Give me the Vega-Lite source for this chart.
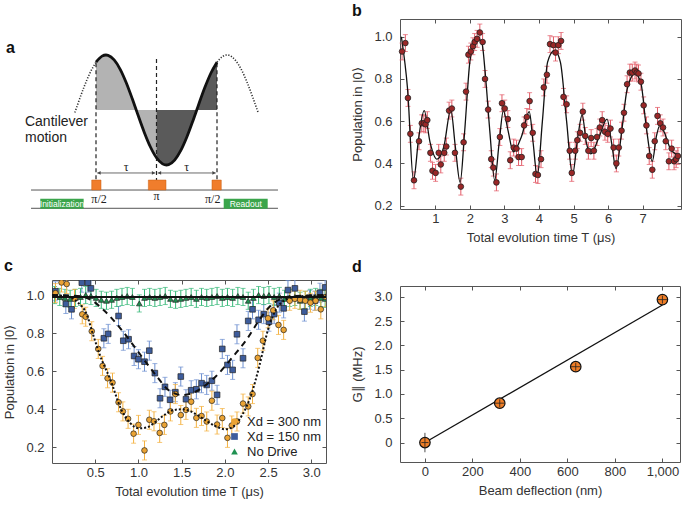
{
"$schema": "https://vega.github.io/schema/vega-lite/v6.json",
"padding": {"left": 3, "top": 2, "right": 0, "bottom": 0},
"background": "white",
"config": {
 "font": "Liberation Sans",
 "view": {"stroke": "#555", "strokeWidth": 1},
 "axis": {"labelFont": "Liberation Sans", "titleFont": "Liberation Sans", "labelFontSize": 13, "titleFontSize": 13, "titleFontWeight": "normal", "labelColor": "#333", "titleColor": "#333", "tickSize": -4, "tickColor": "#555", "grid": false, "domain": false},
 "axisX": {"labelPadding": 7, "titlePadding": 6},
 "axisY": {"labelPadding": 12, "titlePadding": 9},
 "title": {"fontSize": 16, "fontWeight": "bold", "anchor": "start", "frame": "bounds", "color": "#111", "font": "Liberation Sans"}
},
"datasets": {
 "acurve": [
  {"u": -0.35, "v": -0.047, "seg": "L"}, {"u": -0.3, "v": 0.11, "seg": "L"}, {"u": -0.2, "v": 0.412, "seg": "L"}, {"u": -0.1, "v": 0.673, "seg": "L"}, {"u": 0, "v": 0.869, "seg": "L"},
  {"u": 0, "v": 0.869, "seg": "S"}, {"u": 0.1, "v": 0.979, "seg": "S"}, {"u": 0.165, "v": 1, "seg": "S"}, {"u": 0.2, "v": 0.994, "seg": "S"}, {"u": 0.3, "v": 0.911, "seg": "S"}, {"u": 0.4, "v": 0.74, "seg": "S"}, {"u": 0.5, "v": 0.496, "seg": "S"}, {"u": 0.6, "v": 0.203, "seg": "S"}, {"u": 0.665, "v": 0, "seg": "S"}, {"u": 0.7, "v": -0.11, "seg": "S"}, {"u": 0.8, "v": -0.412, "seg": "S"}, {"u": 0.9, "v": -0.673, "seg": "S"}, {"u": 1.0, "v": -0.869, "seg": "S"}, {"u": 1.1, "v": -0.979, "seg": "S"}, {"u": 1.165, "v": -1, "seg": "S"}, {"u": 1.2, "v": -0.994, "seg": "S"}, {"u": 1.3, "v": -0.911, "seg": "S"}, {"u": 1.4, "v": -0.74, "seg": "S"}, {"u": 1.5, "v": -0.496, "seg": "S"}, {"u": 1.6, "v": -0.203, "seg": "S"}, {"u": 1.665, "v": 0, "seg": "S"}, {"u": 1.7, "v": 0.11, "seg": "S"}, {"u": 1.8, "v": 0.412, "seg": "S"}, {"u": 1.9, "v": 0.673, "seg": "S"}, {"u": 2.0, "v": 0.869, "seg": "S"},
  {"u": 2.0, "v": 0.869, "seg": "R"}, {"u": 2.1, "v": 0.979, "seg": "R"}, {"u": 2.165, "v": 1, "seg": "R"}, {"u": 2.2, "v": 0.994, "seg": "R"}, {"u": 2.3, "v": 0.911, "seg": "R"}, {"u": 2.4, "v": 0.74, "seg": "R"}, {"u": 2.5, "v": 0.496, "seg": "R"}, {"u": 2.6, "v": 0.203, "seg": "R"}, {"u": 2.68, "v": -0.047, "seg": "R"}
 ],
 "avl": [{"u": 0, "v1": 0.85, "v2": -1.273}, {"u": 1, "v1": 0.927, "v2": -1.273}, {"u": 2, "v1": 0.85, "v2": -1.273}],
 "abase": [{"u1": -1.074, "u2": 3.008, "v": -1.455}, {"u1": -1.074, "u2": 3.008, "v": -1.787}],
 "aarrow": [{"u1": 0.02, "u2": 0.98, "v": -1.145}, {"u1": 1.02, "u2": 1.98, "v": -1.145}],
 "aheadL": [{"u": 0.05, "v": -1.145}, {"u": 1.05, "v": -1.145}],
 "aheadR": [{"u": 0.95, "v": -1.145}, {"u": 1.95, "v": -1.145}],
 "apulse": [{"u1": -0.071, "u2": 0.083, "v1": -1.273, "v2": -1.455}, {"u1": 0.865, "u2": 1.157, "v1": -1.273, "v2": -1.455}, {"u1": 1.917, "u2": 2.071, "v1": -1.273, "v2": -1.455}],
 "abox": [{"u1": -0.921, "u2": -0.204, "v1": -1.613, "v2": -1.794, "uc": -0.5625, "vc": -1.703, "label": "Initialization"}, {"u1": 2.111, "u2": 2.838, "v1": -1.613, "v2": -1.794, "uc": 2.475, "vc": -1.703, "label": "Readout"}],
 "atext": [
  {"u": -1.174, "v": -0.213, "t": "Cantilever", "k": "m"}, {"u": -1.174, "v": -0.515, "t": "motion", "k": "m"},
  {"u": 0.5, "v": -1.036, "t": "τ", "k": "s"}, {"u": 1.5, "v": -1.036, "t": "τ", "k": "s"},
  {"u": 0.05, "v": -1.62, "t": "π/2", "k": "s"}, {"u": 1.0, "v": -1.56, "t": "π", "k": "s"}, {"u": 1.93, "v": -1.62, "t": "π/2", "k": "s"},
  {"u": -1.4876, "v": 1.036, "t": "a", "k": "lab"}
 ],
 "bpts": [
  {"T": 0.04, "P": 0.93, "e": 0.04}, {"T": 0.135, "P": 0.97, "e": 0.04}, {"T": 0.21, "P": 0.71, "e": 0.04}, {"T": 0.28, "P": 0.54, "e": 0.04}, {"T": 0.385, "P": 0.32, "e": 0.04},
  {"T": 0.53, "P": 0.505, "e": 0.04}, {"T": 0.61, "P": 0.59, "e": 0.04}, {"T": 0.67, "P": 0.59, "e": 0.04}, {"T": 0.72, "P": 0.585, "e": 0.04}, {"T": 0.77, "P": 0.605, "e": 0.04},
  {"T": 0.86, "P": 0.45, "e": 0.04}, {"T": 0.92, "P": 0.365, "e": 0.04}, {"T": 1.01, "P": 0.355, "e": 0.04}, {"T": 1.10, "P": 0.45, "e": 0.04}, {"T": 1.16, "P": 0.395, "e": 0.04},
  {"T": 1.26, "P": 0.45, "e": 0.04}, {"T": 1.32, "P": 0.48, "e": 0.04}, {"T": 1.40, "P": 0.65, "e": 0.04}, {"T": 1.48, "P": 0.66, "e": 0.04}, {"T": 1.57, "P": 0.45, "e": 0.04},
  {"T": 1.74, "P": 0.29, "e": 0.04}, {"T": 1.82, "P": 0.50, "e": 0.04}, {"T": 1.89, "P": 0.74, "e": 0.04}, {"T": 1.96, "P": 0.915, "e": 0.04}, {"T": 2.03, "P": 0.93, "e": 0.04},
  {"T": 2.09, "P": 0.955, "e": 0.04}, {"T": 2.14, "P": 0.975, "e": 0.04}, {"T": 2.21, "P": 0.99, "e": 0.04}, {"T": 2.29, "P": 1.02, "e": 0.04}, {"T": 2.37, "P": 0.975, "e": 0.04},
  {"T": 2.44, "P": 0.80, "e": 0.04}, {"T": 2.53, "P": 0.655, "e": 0.04}, {"T": 2.62, "P": 0.42, "e": 0.04}, {"T": 2.68, "P": 0.38, "e": 0.04}, {"T": 2.77, "P": 0.31, "e": 0.04},
  {"T": 2.87, "P": 0.525, "e": 0.04}, {"T": 2.93, "P": 0.685, "e": 0.04}, {"T": 3.01, "P": 0.66, "e": 0.04}, {"T": 3.10, "P": 0.61, "e": 0.04}, {"T": 3.17, "P": 0.415, "e": 0.04},
  {"T": 3.27, "P": 0.475, "e": 0.04}, {"T": 3.35, "P": 0.47, "e": 0.04}, {"T": 3.41, "P": 0.43, "e": 0.04}, {"T": 3.50, "P": 0.43, "e": 0.04}, {"T": 3.57, "P": 0.58, "e": 0.04},
  {"T": 3.65, "P": 0.62, "e": 0.04}, {"T": 3.73, "P": 0.695, "e": 0.04}, {"T": 3.82, "P": 0.545, "e": 0.04}, {"T": 3.90, "P": 0.35, "e": 0.04}, {"T": 3.97, "P": 0.345, "e": 0.04},
  {"T": 4.06, "P": 0.42, "e": 0.04}, {"T": 4.14, "P": 0.76, "e": 0.04}, {"T": 4.23, "P": 0.82, "e": 0.04}, {"T": 4.32, "P": 0.965, "e": 0.04}, {"T": 4.42, "P": 0.96, "e": 0.04},
  {"T": 4.48, "P": 0.925, "e": 0.04}, {"T": 4.56, "P": 0.96, "e": 0.04}, {"T": 4.64, "P": 0.98, "e": 0.04}, {"T": 4.71, "P": 0.715, "e": 0.04}, {"T": 4.80, "P": 0.68, "e": 0.04},
  {"T": 4.89, "P": 0.46, "e": 0.04}, {"T": 4.95, "P": 0.355, "e": 0.04}, {"T": 5.05, "P": 0.46, "e": 0.04}, {"T": 5.11, "P": 0.51, "e": 0.04}, {"T": 5.19, "P": 0.545, "e": 0.04},
  {"T": 5.27, "P": 0.645, "e": 0.04}, {"T": 5.34, "P": 0.53, "e": 0.04}, {"T": 5.43, "P": 0.46, "e": 0.04}, {"T": 5.51, "P": 0.52, "e": 0.04}, {"T": 5.59, "P": 0.46, "e": 0.04},
  {"T": 5.68, "P": 0.525, "e": 0.04}, {"T": 5.76, "P": 0.57, "e": 0.04}, {"T": 5.83, "P": 0.605, "e": 0.04}, {"T": 5.91, "P": 0.55, "e": 0.04}, {"T": 5.99, "P": 0.54, "e": 0.04},
  {"T": 6.07, "P": 0.565, "e": 0.04}, {"T": 6.16, "P": 0.475, "e": 0.04}, {"T": 6.24, "P": 0.40, "e": 0.04}, {"T": 6.31, "P": 0.475, "e": 0.04}, {"T": 6.39, "P": 0.555, "e": 0.04},
  {"T": 6.46, "P": 0.64, "e": 0.04}, {"T": 6.55, "P": 0.775, "e": 0.04}, {"T": 6.63, "P": 0.83, "e": 0.04}, {"T": 6.70, "P": 0.83, "e": 0.04}, {"T": 6.78, "P": 0.84, "e": 0.04},
  {"T": 6.83, "P": 0.83, "e": 0.04}, {"T": 6.88, "P": 0.826, "e": 0.04}, {"T": 6.95, "P": 0.787, "e": 0.04}, {"T": 7.03, "P": 0.675, "e": 0.04}, {"T": 7.11, "P": 0.58, "e": 0.04},
  {"T": 7.19, "P": 0.435, "e": 0.04}, {"T": 7.28, "P": 0.37, "e": 0.04}, {"T": 7.35, "P": 0.505, "e": 0.04}, {"T": 7.43, "P": 0.625, "e": 0.04}, {"T": 7.51, "P": 0.59, "e": 0.04},
  {"T": 7.59, "P": 0.57, "e": 0.04}, {"T": 7.67, "P": 0.505, "e": 0.04}, {"T": 7.76, "P": 0.41, "e": 0.04}, {"T": 7.84, "P": 0.47, "e": 0.04}, {"T": 7.91, "P": 0.41, "e": 0.04},
  {"T": 7.97, "P": 0.42, "e": 0.04}, {"T": 8.02, "P": 0.435, "e": 0.04}
 ],
 "bfit": [
  {"T": 0.02, "P": 1.0}, {"T": 0.2, "P": 0.75}, {"T": 0.37, "P": 0.32}, {"T": 0.52, "P": 0.52}, {"T": 0.68, "P": 0.65}, {"T": 0.85, "P": 0.5}, {"T": 1.05, "P": 0.42}, {"T": 1.25, "P": 0.48}, {"T": 1.45, "P": 0.655}, {"T": 1.58, "P": 0.48}, {"T": 1.72, "P": 0.31}, {"T": 1.85, "P": 0.55}, {"T": 2.0, "P": 0.88}, {"T": 2.1, "P": 0.96}, {"T": 2.25, "P": 0.99}, {"T": 2.35, "P": 0.97}, {"T": 2.45, "P": 0.82}, {"T": 2.58, "P": 0.55}, {"T": 2.72, "P": 0.32}, {"T": 2.85, "P": 0.5}, {"T": 2.97, "P": 0.65}, {"T": 3.1, "P": 0.56}, {"T": 3.26, "P": 0.455}, {"T": 3.5, "P": 0.53}, {"T": 3.72, "P": 0.645}, {"T": 3.83, "P": 0.5}, {"T": 3.95, "P": 0.34}, {"T": 4.1, "P": 0.6}, {"T": 4.25, "P": 0.88}, {"T": 4.45, "P": 0.935}, {"T": 4.62, "P": 0.88}, {"T": 4.8, "P": 0.6}, {"T": 4.97, "P": 0.345}, {"T": 5.12, "P": 0.52}, {"T": 5.25, "P": 0.63}, {"T": 5.37, "P": 0.5}, {"T": 5.5, "P": 0.445}, {"T": 5.75, "P": 0.53}, {"T": 5.97, "P": 0.61}, {"T": 6.1, "P": 0.5}, {"T": 6.23, "P": 0.375}, {"T": 6.4, "P": 0.56}, {"T": 6.55, "P": 0.75}, {"T": 6.78, "P": 0.825}, {"T": 6.95, "P": 0.78}, {"T": 7.1, "P": 0.58}, {"T": 7.28, "P": 0.41}, {"T": 7.4, "P": 0.53}, {"T": 7.5, "P": 0.58}, {"T": 7.62, "P": 0.55}, {"T": 7.8, "P": 0.47}, {"T": 7.95, "P": 0.445}, {"T": 8.08, "P": 0.44}
 ],
 "cpts": [
  {"T": 0.04, "P": 1.02, "e": 0.05, "s": "Xd = 150 nm"}, {"T": 0.16, "P": 0.953, "e": 0.05, "s": "Xd = 150 nm"}, {"T": 0.226, "P": 0.925, "e": 0.05, "s": "Xd = 150 nm"}, {"T": 0.345, "P": 1.065, "e": 0.05, "s": "Xd = 150 nm"}, {"T": 0.415, "P": 1.065, "e": 0.05, "s": "Xd = 150 nm"}, {"T": 0.45, "P": 1.035, "e": 0.05, "s": "Xd = 150 nm"},
  {"T": 0.60, "P": 0.773, "e": 0.05, "s": "Xd = 150 nm"}, {"T": 0.65, "P": 0.796, "e": 0.05, "s": "Xd = 150 nm"}, {"T": 0.77, "P": 0.89, "e": 0.05, "s": "Xd = 150 nm"}, {"T": 0.825, "P": 0.76, "e": 0.05, "s": "Xd = 150 nm"}, {"T": 0.886, "P": 0.768, "e": 0.05, "s": "Xd = 150 nm"}, {"T": 0.95, "P": 0.68, "e": 0.05, "s": "Xd = 150 nm"},
  {"T": 1.0, "P": 0.663, "e": 0.05, "s": "Xd = 150 nm"}, {"T": 1.07, "P": 0.65, "e": 0.05, "s": "Xd = 150 nm"}, {"T": 1.126, "P": 0.708, "e": 0.05, "s": "Xd = 150 nm"}, {"T": 1.19, "P": 0.59, "e": 0.05, "s": "Xd = 150 nm"}, {"T": 1.25, "P": 0.458, "e": 0.05, "s": "Xd = 150 nm"}, {"T": 1.307, "P": 0.518, "e": 0.05, "s": "Xd = 150 nm"},
  {"T": 1.366, "P": 0.45, "e": 0.05, "s": "Xd = 150 nm"}, {"T": 1.427, "P": 0.49, "e": 0.05, "s": "Xd = 150 nm"}, {"T": 1.49, "P": 0.572, "e": 0.05, "s": "Xd = 150 nm"}, {"T": 1.55, "P": 0.453, "e": 0.05, "s": "Xd = 150 nm"}, {"T": 1.61, "P": 0.5, "e": 0.05, "s": "Xd = 150 nm"}, {"T": 1.67, "P": 0.505, "e": 0.05, "s": "Xd = 150 nm"},
  {"T": 1.73, "P": 0.537, "e": 0.05, "s": "Xd = 150 nm"}, {"T": 1.79, "P": 0.528, "e": 0.05, "s": "Xd = 150 nm"}, {"T": 1.85, "P": 0.55, "e": 0.05, "s": "Xd = 150 nm"}, {"T": 1.91, "P": 0.476, "e": 0.05, "s": "Xd = 150 nm"}, {"T": 1.97, "P": 0.717, "e": 0.05, "s": "Xd = 150 nm"}, {"T": 2.03, "P": 0.633, "e": 0.05, "s": "Xd = 150 nm"},
  {"T": 2.09, "P": 0.607, "e": 0.05, "s": "Xd = 150 nm"}, {"T": 2.14, "P": 0.794, "e": 0.05, "s": "Xd = 150 nm"}, {"T": 2.21, "P": 0.668, "e": 0.05, "s": "Xd = 150 nm"}, {"T": 2.27, "P": 0.864, "e": 0.05, "s": "Xd = 150 nm"}, {"T": 2.32, "P": 0.925, "e": 0.05, "s": "Xd = 150 nm"}, {"T": 2.39, "P": 0.87, "e": 0.05, "s": "Xd = 150 nm"},
  {"T": 2.45, "P": 0.9, "e": 0.05, "s": "Xd = 150 nm"}, {"T": 2.51, "P": 0.86, "e": 0.05, "s": "Xd = 150 nm"}, {"T": 2.57, "P": 0.9, "e": 0.05, "s": "Xd = 150 nm"}, {"T": 2.63, "P": 0.96, "e": 0.05, "s": "Xd = 150 nm"}, {"T": 2.68, "P": 0.93, "e": 0.05, "s": "Xd = 150 nm"}, {"T": 2.73, "P": 1.026, "e": 0.05, "s": "Xd = 150 nm"},
  {"T": 2.81, "P": 1.035, "e": 0.05, "s": "Xd = 150 nm"}, {"T": 2.92, "P": 0.913, "e": 0.05, "s": "Xd = 150 nm"}, {"T": 2.98, "P": 0.975, "e": 0.05, "s": "Xd = 150 nm"}, {"T": 3.04, "P": 0.97, "e": 0.05, "s": "Xd = 150 nm"}, {"T": 3.10, "P": 1.012, "e": 0.05, "s": "Xd = 150 nm"}, {"T": 3.16, "P": 1.04, "e": 0.05, "s": "Xd = 150 nm"},
  {"T": 0.03, "P": 1.0, "e": 0.045, "s": "No Drive"}, {"T": 0.09, "P": 0.99, "e": 0.045, "s": "No Drive"}, {"T": 0.15, "P": 0.985, "e": 0.045, "s": "No Drive"}, {"T": 0.21, "P": 0.98, "e": 0.045, "s": "No Drive"}, {"T": 0.27, "P": 0.985, "e": 0.045, "s": "No Drive"}, {"T": 0.33, "P": 0.99, "e": 0.045, "s": "No Drive"},
  {"T": 0.39, "P": 1.0, "e": 0.045, "s": "No Drive"}, {"T": 0.45, "P": 0.995, "e": 0.045, "s": "No Drive"}, {"T": 0.51, "P": 0.985, "e": 0.045, "s": "No Drive"}, {"T": 0.57, "P": 0.975, "e": 0.045, "s": "No Drive"}, {"T": 0.63, "P": 0.97, "e": 0.045, "s": "No Drive"}, {"T": 0.69, "P": 0.975, "e": 0.045, "s": "No Drive"},
  {"T": 0.75, "P": 0.985, "e": 0.045, "s": "No Drive"}, {"T": 0.81, "P": 0.99, "e": 0.045, "s": "No Drive"}, {"T": 0.87, "P": 0.995, "e": 0.045, "s": "No Drive"}, {"T": 0.93, "P": 0.99, "e": 0.045, "s": "No Drive"}, {"T": 1.01, "P": 0.956, "e": 0.045, "s": "No Drive"}, {"T": 1.07, "P": 0.985, "e": 0.045, "s": "No Drive"},
  {"T": 1.13, "P": 0.99, "e": 0.045, "s": "No Drive"}, {"T": 1.19, "P": 0.985, "e": 0.045, "s": "No Drive"}, {"T": 1.25, "P": 0.99, "e": 0.045, "s": "No Drive"}, {"T": 1.31, "P": 0.995, "e": 0.045, "s": "No Drive"}, {"T": 1.37, "P": 0.98, "e": 0.045, "s": "No Drive"}, {"T": 1.43, "P": 0.975, "e": 0.045, "s": "No Drive"},
  {"T": 1.49, "P": 0.98, "e": 0.045, "s": "No Drive"}, {"T": 1.55, "P": 0.985, "e": 0.045, "s": "No Drive"}, {"T": 1.61, "P": 0.99, "e": 0.045, "s": "No Drive"}, {"T": 1.67, "P": 0.98, "e": 0.045, "s": "No Drive"}, {"T": 1.73, "P": 0.99, "e": 0.045, "s": "No Drive"}, {"T": 1.79, "P": 0.985, "e": 0.045, "s": "No Drive"},
  {"T": 1.85, "P": 0.99, "e": 0.045, "s": "No Drive"}, {"T": 1.91, "P": 0.995, "e": 0.045, "s": "No Drive"}, {"T": 1.97, "P": 0.985, "e": 0.045, "s": "No Drive"}, {"T": 2.03, "P": 0.99, "e": 0.045, "s": "No Drive"}, {"T": 2.09, "P": 0.985, "e": 0.045, "s": "No Drive"}, {"T": 2.15, "P": 0.995, "e": 0.045, "s": "No Drive"},
  {"T": 2.21, "P": 0.99, "e": 0.045, "s": "No Drive"}, {"T": 2.27, "P": 0.97, "e": 0.045, "s": "No Drive"}, {"T": 2.33, "P": 0.985, "e": 0.045, "s": "No Drive"}, {"T": 2.39, "P": 1.0, "e": 0.045, "s": "No Drive"}, {"T": 2.45, "P": 0.995, "e": 0.045, "s": "No Drive"}, {"T": 2.51, "P": 1.0, "e": 0.045, "s": "No Drive"},
  {"T": 2.57, "P": 0.99, "e": 0.045, "s": "No Drive"}, {"T": 2.63, "P": 0.995, "e": 0.045, "s": "No Drive"}, {"T": 2.69, "P": 0.98, "e": 0.045, "s": "No Drive"}, {"T": 2.75, "P": 0.985, "e": 0.045, "s": "No Drive"}, {"T": 2.81, "P": 0.99, "e": 0.045, "s": "No Drive"}, {"T": 2.87, "P": 0.97, "e": 0.045, "s": "No Drive"},
  {"T": 2.93, "P": 0.975, "e": 0.045, "s": "No Drive"}, {"T": 2.99, "P": 0.985, "e": 0.045, "s": "No Drive"}, {"T": 3.05, "P": 0.99, "e": 0.045, "s": "No Drive"}, {"T": 3.11, "P": 0.985, "e": 0.045, "s": "No Drive"}, {"T": 3.16, "P": 0.98, "e": 0.045, "s": "No Drive"},
  {"T": 0.04, "P": 1.01, "e": 0.05, "s": "Xd = 300 nm"}, {"T": 0.11, "P": 1.066, "e": 0.05, "s": "Xd = 300 nm"}, {"T": 0.17, "P": 1.058, "e": 0.05, "s": "Xd = 300 nm"}, {"T": 0.26, "P": 0.98, "e": 0.05, "s": "Xd = 300 nm"}, {"T": 0.35, "P": 0.899, "e": 0.05, "s": "Xd = 300 nm"}, {"T": 0.39, "P": 0.886, "e": 0.05, "s": "Xd = 300 nm"},
  {"T": 0.46, "P": 0.81, "e": 0.05, "s": "Xd = 300 nm"}, {"T": 0.535, "P": 0.717, "e": 0.05, "s": "Xd = 300 nm"}, {"T": 0.585, "P": 0.628, "e": 0.05, "s": "Xd = 300 nm"}, {"T": 0.643, "P": 0.563, "e": 0.05, "s": "Xd = 300 nm"}, {"T": 0.70, "P": 0.54, "e": 0.05, "s": "Xd = 300 nm"}, {"T": 0.77, "P": 0.437, "e": 0.05, "s": "Xd = 300 nm"},
  {"T": 0.82, "P": 0.389, "e": 0.05, "s": "Xd = 300 nm"}, {"T": 0.88, "P": 0.35, "e": 0.05, "s": "Xd = 300 nm"}, {"T": 0.944, "P": 0.272, "e": 0.05, "s": "Xd = 300 nm"}, {"T": 1.0, "P": 0.318, "e": 0.05, "s": "Xd = 300 nm"}, {"T": 1.07, "P": 0.184, "e": 0.05, "s": "Xd = 300 nm"}, {"T": 1.126, "P": 0.345, "e": 0.05, "s": "Xd = 300 nm"},
  {"T": 1.18, "P": 0.337, "e": 0.05, "s": "Xd = 300 nm"}, {"T": 1.246, "P": 0.276, "e": 0.05, "s": "Xd = 300 nm"}, {"T": 1.30, "P": 0.318, "e": 0.05, "s": "Xd = 300 nm"}, {"T": 1.37, "P": 0.389, "e": 0.05, "s": "Xd = 300 nm"}, {"T": 1.427, "P": 0.48, "e": 0.05, "s": "Xd = 300 nm"}, {"T": 1.49, "P": 0.37, "e": 0.05, "s": "Xd = 300 nm"},
  {"T": 1.55, "P": 0.397, "e": 0.05, "s": "Xd = 300 nm"}, {"T": 1.61, "P": 0.44, "e": 0.05, "s": "Xd = 300 nm"}, {"T": 1.67, "P": 0.355, "e": 0.05, "s": "Xd = 300 nm"}, {"T": 1.73, "P": 0.365, "e": 0.05, "s": "Xd = 300 nm"}, {"T": 1.79, "P": 0.336, "e": 0.05, "s": "Xd = 300 nm"}, {"T": 1.85, "P": 0.445, "e": 0.05, "s": "Xd = 300 nm"},
  {"T": 1.91, "P": 0.32, "e": 0.05, "s": "Xd = 300 nm"}, {"T": 1.97, "P": 0.354, "e": 0.05, "s": "Xd = 300 nm"}, {"T": 2.03, "P": 0.25, "e": 0.05, "s": "Xd = 300 nm"}, {"T": 2.08, "P": 0.315, "e": 0.05, "s": "Xd = 300 nm"}, {"T": 2.14, "P": 0.336, "e": 0.05, "s": "Xd = 300 nm"}, {"T": 2.21, "P": 0.43, "e": 0.05, "s": "Xd = 300 nm"},
  {"T": 2.27, "P": 0.415, "e": 0.05, "s": "Xd = 300 nm"}, {"T": 2.32, "P": 0.48, "e": 0.05, "s": "Xd = 300 nm"}, {"T": 2.38, "P": 0.67, "e": 0.05, "s": "Xd = 300 nm"}, {"T": 2.44, "P": 0.76, "e": 0.05, "s": "Xd = 300 nm"}, {"T": 2.50, "P": 0.878, "e": 0.05, "s": "Xd = 300 nm"}, {"T": 2.56, "P": 0.92, "e": 0.05, "s": "Xd = 300 nm"},
  {"T": 2.62, "P": 0.843, "e": 0.05, "s": "Xd = 300 nm"}, {"T": 2.68, "P": 0.817, "e": 0.05, "s": "Xd = 300 nm"}, {"T": 2.75, "P": 0.97, "e": 0.05, "s": "Xd = 300 nm"}, {"T": 2.81, "P": 0.98, "e": 0.05, "s": "Xd = 300 nm"}, {"T": 2.87, "P": 0.975, "e": 0.05, "s": "Xd = 300 nm"}, {"T": 2.93, "P": 0.97, "e": 0.05, "s": "Xd = 300 nm"},
  {"T": 2.99, "P": 0.96, "e": 0.05, "s": "Xd = 300 nm"}, {"T": 3.05, "P": 0.97, "e": 0.05, "s": "Xd = 300 nm"}, {"T": 3.11, "P": 0.925, "e": 0.05, "s": "Xd = 300 nm"}, {"T": 3.17, "P": 0.99, "e": 0.05, "s": "Xd = 300 nm"}
 ],
 "cfit": [
  {"T": 0, "P": 0.99, "f": "solid"}, {"T": 3.17, "P": 0.99, "f": "solid"},
  {"T": 0, "P": 1.0, "f": "dash"}, {"T": 0.3, "P": 0.995, "f": "dash"}, {"T": 0.45, "P": 0.975, "f": "dash"}, {"T": 0.6, "P": 0.92, "f": "dash"}, {"T": 0.8, "P": 0.82, "f": "dash"}, {"T": 1.0, "P": 0.7, "f": "dash"}, {"T": 1.2, "P": 0.58, "f": "dash"}, {"T": 1.35, "P": 0.5, "f": "dash"}, {"T": 1.5, "P": 0.475, "f": "dash"}, {"T": 1.65, "P": 0.49, "f": "dash"}, {"T": 1.8, "P": 0.535, "f": "dash"}, {"T": 1.9, "P": 0.575, "f": "dash"}, {"T": 2.1, "P": 0.68, "f": "dash"}, {"T": 2.25, "P": 0.765, "f": "dash"}, {"T": 2.4, "P": 0.87, "f": "dash"}, {"T": 2.52, "P": 0.94, "f": "dash"}, {"T": 2.65, "P": 0.98, "f": "dash"}, {"T": 2.8, "P": 0.995, "f": "dash"}, {"T": 3.17, "P": 1.0, "f": "dash"},
  {"T": 0, "P": 1.0, "f": "dot"}, {"T": 0.2, "P": 0.99, "f": "dot"}, {"T": 0.3, "P": 0.96, "f": "dot"}, {"T": 0.4, "P": 0.9, "f": "dot"}, {"T": 0.47, "P": 0.8, "f": "dot"}, {"T": 0.55, "P": 0.69, "f": "dot"}, {"T": 0.68, "P": 0.55, "f": "dot"}, {"T": 0.8, "P": 0.4, "f": "dot"}, {"T": 0.9, "P": 0.33, "f": "dot"}, {"T": 1.0, "P": 0.3, "f": "dot"}, {"T": 1.1, "P": 0.305, "f": "dot"}, {"T": 1.2, "P": 0.335, "f": "dot"}, {"T": 1.3, "P": 0.37, "f": "dot"}, {"T": 1.4, "P": 0.395, "f": "dot"}, {"T": 1.5, "P": 0.4, "f": "dot"}, {"T": 1.6, "P": 0.39, "f": "dot"}, {"T": 1.7, "P": 0.365, "f": "dot"}, {"T": 1.8, "P": 0.335, "f": "dot"}, {"T": 1.9, "P": 0.31, "f": "dot"}, {"T": 2.0, "P": 0.295, "f": "dot"}, {"T": 2.1, "P": 0.31, "f": "dot"}, {"T": 2.2, "P": 0.37, "f": "dot"}, {"T": 2.3, "P": 0.47, "f": "dot"}, {"T": 2.4, "P": 0.63, "f": "dot"}, {"T": 2.5, "P": 0.82, "f": "dot"}, {"T": 2.6, "P": 0.93, "f": "dot"}, {"T": 2.7, "P": 0.975, "f": "dot"}, {"T": 2.8, "P": 0.99, "f": "dot"}, {"T": 3.17, "P": 1.0, "f": "dot"}
 ],
 "dpts": [{"X": 0, "G": 0.0, "ey": 0.2, "ex": 15}, {"X": 315, "G": 0.81, "ey": 0.08, "ex": 20}, {"X": 635, "G": 1.56, "ey": 0.08, "ex": 20}, {"X": 1000, "G": 2.94, "ey": 0.08, "ex": 20}],
 "dfit": [{"X": 0, "G": 0.0}, {"X": 1000, "G": 2.83}]
},
"spacing": 20,
"resolve": {"scale": {"color": "independent", "fill": "independent", "shape": "independent", "strokeDash": "independent"}},
"hconcat": [
 {"spacing": 28,
  "resolve": {"scale": {"color": "independent", "fill": "independent", "shape": "independent", "strokeDash": "independent"}},
  "vconcat": [
  {"width": 274, "height": 210, "view": {"stroke": null},
   "layer": [
    {"data": {"name": "acurve"}, "transform": [{"filter": "datum.seg == 'S' && datum.u <= 1"}], "mark": {"type": "area", "interpolate": "monotone", "color": "#b3b3b3"},
     "encoding": {"x": {"field": "u", "type": "quantitative", "scale": {"domain": [-0.7273, 3.8017], "nice": false, "zero": false}, "axis": null}, "y": {"field": "v", "type": "quantitative", "scale": {"domain": [-2.1636, 1.6545], "nice": false, "zero": false}, "axis": null}, "y2": {"datum": 0}}},
    {"data": {"name": "acurve"}, "transform": [{"filter": "datum.seg == 'S' && datum.u >= 1"}], "mark": {"type": "area", "interpolate": "monotone", "color": "#5a5a5a"},
     "encoding": {"x": {"field": "u", "type": "quantitative", "scale": {"domain": [-0.7273, 3.8017], "nice": false, "zero": false}, "axis": null}, "y": {"field": "v", "type": "quantitative", "scale": {"domain": [-2.1636, 1.6545], "nice": false, "zero": false}, "axis": null}, "y2": {"datum": 0}}},
    {"data": {"name": "avl"}, "mark": {"type": "rule", "strokeDash": [4, 3], "strokeWidth": 1.2, "color": "#222"},
     "encoding": {"x": {"field": "u", "type": "quantitative", "scale": {"domain": [-0.7273, 3.8017], "nice": false, "zero": false}, "axis": null}, "y": {"field": "v1", "type": "quantitative", "scale": {"domain": [-2.1636, 1.6545], "nice": false, "zero": false}, "axis": null}, "y2": {"field": "v2"}}},
    {"data": {"name": "abase"}, "mark": {"type": "rule", "strokeWidth": 1, "color": "#555"},
     "encoding": {"x": {"field": "u1", "type": "quantitative", "scale": {"domain": [-0.7273, 3.8017], "nice": false, "zero": false}, "axis": null}, "x2": {"field": "u2"}, "y": {"field": "v", "type": "quantitative", "scale": {"domain": [-2.1636, 1.6545], "nice": false, "zero": false}, "axis": null}}},
    {"data": {"name": "aarrow"}, "mark": {"type": "rule", "strokeWidth": 0.8, "color": "#444"},
     "encoding": {"x": {"field": "u1", "type": "quantitative", "scale": {"domain": [-0.7273, 3.8017], "nice": false, "zero": false}, "axis": null}, "x2": {"field": "u2"}, "y": {"field": "v", "type": "quantitative", "scale": {"domain": [-2.1636, 1.6545], "nice": false, "zero": false}, "axis": null}}},
    {"data": {"name": "aheadL"}, "mark": {"type": "point", "shape": "triangle-left", "filled": true, "size": 14, "color": "#444", "opacity": 1},
     "encoding": {"x": {"field": "u", "type": "quantitative", "scale": {"domain": [-0.7273, 3.8017], "nice": false, "zero": false}, "axis": null}, "y": {"field": "v", "type": "quantitative", "scale": {"domain": [-2.1636, 1.6545], "nice": false, "zero": false}, "axis": null}}},
    {"data": {"name": "aheadR"}, "mark": {"type": "point", "shape": "triangle-right", "filled": true, "size": 14, "color": "#444", "opacity": 1},
     "encoding": {"x": {"field": "u", "type": "quantitative", "scale": {"domain": [-0.7273, 3.8017], "nice": false, "zero": false}, "axis": null}, "y": {"field": "v", "type": "quantitative", "scale": {"domain": [-2.1636, 1.6545], "nice": false, "zero": false}, "axis": null}}},
    {"data": {"name": "apulse"}, "mark": {"type": "rect", "color": "#f07d2c", "stroke": "#c85f12", "strokeWidth": 0.5},
     "encoding": {"x": {"field": "u1", "type": "quantitative", "scale": {"domain": [-0.7273, 3.8017], "nice": false, "zero": false}, "axis": null}, "x2": {"field": "u2"}, "y": {"field": "v1", "type": "quantitative", "scale": {"domain": [-2.1636, 1.6545], "nice": false, "zero": false}, "axis": null}, "y2": {"field": "v2"}}},
    {"data": {"name": "abox"}, "mark": {"type": "rect", "color": "#3aa54b"},
     "encoding": {"x": {"field": "u1", "type": "quantitative", "scale": {"domain": [-0.7273, 3.8017], "nice": false, "zero": false}, "axis": null}, "x2": {"field": "u2"}, "y": {"field": "v1", "type": "quantitative", "scale": {"domain": [-2.1636, 1.6545], "nice": false, "zero": false}, "axis": null}, "y2": {"field": "v2"}}},
    {"data": {"name": "abox"}, "mark": {"type": "text", "color": "white", "fontSize": 8.5, "align": "center", "baseline": "middle"},
     "encoding": {"x": {"field": "uc", "type": "quantitative", "scale": {"domain": [-0.7273, 3.8017], "nice": false, "zero": false}, "axis": null}, "y": {"field": "vc", "type": "quantitative", "scale": {"domain": [-2.1636, 1.6545], "nice": false, "zero": false}, "axis": null}, "text": {"field": "label"}}},
    {"data": {"name": "acurve"}, "transform": [{"filter": "datum.seg == 'S'"}], "mark": {"type": "line", "interpolate": "monotone", "color": "#111", "strokeWidth": 2.8},
     "encoding": {"x": {"field": "u", "type": "quantitative", "scale": {"domain": [-0.7273, 3.8017], "nice": false, "zero": false}, "axis": null}, "y": {"field": "v", "type": "quantitative", "scale": {"domain": [-2.1636, 1.6545], "nice": false, "zero": false}, "axis": null}}},
    {"data": {"name": "acurve"}, "transform": [{"filter": "datum.seg != 'S'"}], "mark": {"type": "line", "interpolate": "monotone", "color": "#333", "strokeWidth": 1.6, "strokeDash": [1.2, 1.6]},
     "encoding": {"x": {"field": "u", "type": "quantitative", "scale": {"domain": [-0.7273, 3.8017], "nice": false, "zero": false}, "axis": null}, "y": {"field": "v", "type": "quantitative", "scale": {"domain": [-2.1636, 1.6545], "nice": false, "zero": false}, "axis": null}, "detail": {"field": "seg"}}},
    {"data": {"name": "atext"}, "transform": [{"filter": "datum.k == 'm'"}], "mark": {"type": "text", "align": "left", "baseline": "middle", "fontSize": 14, "color": "#222"},
     "encoding": {"x": {"field": "u", "type": "quantitative", "scale": {"domain": [-0.7273, 3.8017], "nice": false, "zero": false}, "axis": null}, "y": {"field": "v", "type": "quantitative", "scale": {"domain": [-2.1636, 1.6545], "nice": false, "zero": false}, "axis": null}, "text": {"field": "t"}}},
    {"data": {"name": "atext"}, "transform": [{"filter": "datum.k == 's'"}], "mark": {"type": "text", "align": "center", "baseline": "middle", "fontSize": 12, "font": "Liberation Serif", "color": "#222"},
     "encoding": {"x": {"field": "u", "type": "quantitative", "scale": {"domain": [-0.7273, 3.8017], "nice": false, "zero": false}, "axis": null}, "y": {"field": "v", "type": "quantitative", "scale": {"domain": [-2.1636, 1.6545], "nice": false, "zero": false}, "axis": null}, "text": {"field": "t"}}},
    {"data": {"name": "atext"}, "transform": [{"filter": "datum.k == 'lab'"}], "mark": {"type": "text", "align": "left", "baseline": "alphabetic", "fontSize": 16, "fontWeight": "bold", "color": "#111"},
     "encoding": {"x": {"field": "u", "type": "quantitative", "scale": {"domain": [-0.7273, 3.8017], "nice": false, "zero": false}, "axis": null}, "y": {"field": "v", "type": "quantitative", "scale": {"domain": [-2.1636, 1.6545], "nice": false, "zero": false}, "axis": null}, "text": {"field": "t"}}}
   ]},
  {"title": {"text": "c", "offset": 6}, "width": 274, "height": 183,
   "resolve": {"axis": {"x": "independent", "y": "independent"}},
   "layer": [
    {"data": {"name": "cpts"}, "transform": [{"filter": "datum.s == 'Xd = 150 nm'"}], "mark": {"type": "errorbar", "thickness": 1, "ticks": {"size": 5}, "clip": true, "color": "#6c8fd0"},
     "encoding": {"x": {"field": "T", "type": "quantitative", "scale": {"domain": [0, 3.17], "nice": false, "zero": false}, "axis": null}, "y": {"field": "P", "type": "quantitative", "scale": {"domain": [0.118, 1.079], "nice": false, "zero": false}, "axis": null}, "yError": {"field": "e"}}},
    {"data": {"name": "cpts"}, "transform": [{"filter": "datum.s == 'No Drive'"}], "mark": {"type": "errorbar", "thickness": 1, "ticks": {"size": 5}, "clip": true, "color": "#35b877"},
     "encoding": {"x": {"field": "T", "type": "quantitative", "scale": {"domain": [0, 3.17], "nice": false, "zero": false}, "axis": null}, "y": {"field": "P", "type": "quantitative", "scale": {"domain": [0.118, 1.079], "nice": false, "zero": false}, "axis": null}, "yError": {"field": "e"}}},
    {"data": {"name": "cpts"}, "transform": [{"filter": "datum.s == 'Xd = 300 nm'"}], "mark": {"type": "errorbar", "thickness": 1, "ticks": {"size": 5}, "clip": true, "color": "#f4b13f"},
     "encoding": {"x": {"field": "T", "type": "quantitative", "scale": {"domain": [0, 3.17], "nice": false, "zero": false}, "axis": null}, "y": {"field": "P", "type": "quantitative", "scale": {"domain": [0.118, 1.079], "nice": false, "zero": false}, "axis": null}, "yError": {"field": "e"}}},
    {"data": {"name": "cpts"}, "mark": {"type": "point", "filled": true, "stroke": "#222", "strokeWidth": 0.7, "size": 32, "opacity": 1, "clip": true},
     "encoding": {"x": {"field": "T", "type": "quantitative", "scale": {"domain": [0, 3.17], "nice": false, "zero": false}, "axis": {"title": "Total evolution time T (μs)", "values": [0.5, 1, 1.5, 2, 2.5, 3], "format": ".1f"}}, "y": {"field": "P", "type": "quantitative", "scale": {"domain": [0.118, 1.079], "nice": false, "zero": false}, "axis": {"title": "Population in |0⟩", "values": [0.2, 0.4, 0.6, 0.8, 1.0], "format": ".1f"}},
      "fill": {"field": "s", "type": "nominal", "scale": {"domain": ["Xd = 300 nm", "Xd = 150 nm", "No Drive"], "range": ["#eaa334", "#3d5c9c", "#1f9151"]}, "legend": {"orient": "bottom-right", "offset": 4, "title": null, "labelFontSize": 13, "labelColor": "#222", "symbolSize": 45, "symbolStrokeColor": "#222", "symbolStrokeWidth": 0.7, "rowPadding": 1, "padding": 0, "labelOffset": 6}},
      "shape": {"field": "s", "type": "nominal", "scale": {"domain": ["Xd = 300 nm", "Xd = 150 nm", "No Drive"], "range": ["circle", "square", "triangle-up"]}, "legend": {"orient": "bottom-right", "offset": 4, "title": null, "labelFontSize": 13, "labelColor": "#222", "symbolSize": 45, "symbolStrokeColor": "#222", "symbolStrokeWidth": 0.7, "rowPadding": 1, "padding": 0, "labelOffset": 6}}}},
    {"data": {"name": "cfit"}, "mark": {"type": "line", "interpolate": "monotone", "color": "#111", "strokeWidth": 2},
     "encoding": {"x": {"field": "T", "type": "quantitative", "scale": {"domain": [0, 3.17], "nice": false, "zero": false}, "axis": null}, "y": {"field": "P", "type": "quantitative", "scale": {"domain": [0.118, 1.079], "nice": false, "zero": false}, "axis": null}, "strokeDash": {"field": "f", "type": "nominal", "scale": {"domain": ["solid", "dash", "dot"], "range": [[1, 0], [6, 5], [2, 2]]}, "legend": null}}},
    {"data": {"name": "cfit"}, "mark": {"type": "point", "opacity": 0},
     "encoding": {"x": {"field": "T", "type": "quantitative", "scale": {"domain": [0, 3.17], "nice": false, "zero": false}, "axis": {"orient": "top", "labels": false, "title": null, "values": [0.5, 1, 1.5, 2, 2.5, 3]}}, "y": {"field": "P", "type": "quantitative", "scale": {"domain": [0.118, 1.079], "nice": false, "zero": false}, "axis": {"orient": "right", "labels": false, "title": null, "values": [0.2, 0.4, 0.6, 0.8, 1.0]}}}}
   ]}
 ]},
 {"spacing": 13,
  "resolve": {"scale": {"color": "independent", "fill": "independent", "shape": "independent", "strokeDash": "independent"}},
  "vconcat": [
  {"title": {"text": "b", "offset": 0}, "width": 281, "height": 190,
   "resolve": {"axis": {"x": "independent", "y": "independent"}},
   "layer": [
    {"data": {"name": "bpts"}, "mark": {"type": "errorbar", "color": "#e35a66", "thickness": 1, "ticks": {"size": 5}},
     "encoding": {"x": {"field": "T", "type": "quantitative", "scale": {"domain": [-0.02, 8.11], "nice": false, "zero": false}, "axis": null}, "y": {"field": "P", "type": "quantitative", "scale": {"domain": [0.184, 1.084], "nice": false, "zero": false}, "axis": null}, "yError": {"field": "e"}}},
    {"data": {"name": "bfit"}, "mark": {"type": "line", "interpolate": "monotone", "color": "#111", "strokeWidth": 1.3},
     "encoding": {"x": {"field": "T", "type": "quantitative", "scale": {"domain": [-0.02, 8.11], "nice": false, "zero": false}, "axis": null}, "y": {"field": "P", "type": "quantitative", "scale": {"domain": [0.184, 1.084], "nice": false, "zero": false}, "axis": null}}},
    {"data": {"name": "bpts"}, "mark": {"type": "point", "shape": "circle", "filled": true, "fill": "#9a2727", "stroke": "#222", "strokeWidth": 0.8, "size": 32, "opacity": 1},
     "encoding": {"x": {"field": "T", "type": "quantitative", "scale": {"domain": [-0.02, 8.11], "nice": false, "zero": false}, "axis": {"title": "Total evolution time T (μs)", "values": [1, 2, 3, 4, 5, 6, 7], "format": "d"}}, "y": {"field": "P", "type": "quantitative", "scale": {"domain": [0.184, 1.084], "nice": false, "zero": false}, "axis": {"title": "Population in |0⟩", "values": [0.2, 0.4, 0.6, 0.8, 1.0], "format": ".1f"}}}},
    {"data": {"name": "bfit"}, "mark": {"type": "point", "opacity": 0},
     "encoding": {"x": {"field": "T", "type": "quantitative", "scale": {"domain": [-0.02, 8.11], "nice": false, "zero": false}, "axis": {"orient": "top", "labels": false, "title": null, "values": [1, 2, 3, 4, 5, 6, 7]}}, "y": {"field": "P", "type": "quantitative", "scale": {"domain": [0.184, 1.084], "nice": false, "zero": false}, "axis": {"orient": "right", "labels": false, "title": null, "values": [0.2, 0.4, 0.6, 0.8, 1.0]}}}}
   ]},
  {"title": {"text": "d", "offset": 11}, "width": 280, "height": 176,
   "resolve": {"axis": {"x": "independent", "y": "independent"}},
   "layer": [
    {"data": {"name": "dfit"}, "mark": {"type": "line", "color": "#111", "strokeWidth": 1.3},
     "encoding": {"x": {"field": "X", "type": "quantitative", "scale": {"domain": [-105, 1074], "nice": false, "zero": false}, "axis": null}, "y": {"field": "G", "type": "quantitative", "scale": {"domain": [-0.4, 3.22], "nice": false, "zero": false}, "axis": null}}},
    {"data": {"name": "dpts"}, "mark": {"type": "point", "shape": "circle", "filled": true, "fill": "#ef7e27", "stroke": "#111", "strokeWidth": 1.2, "size": 110, "opacity": 1},
     "encoding": {"x": {"field": "X", "type": "quantitative", "scale": {"domain": [-105, 1074], "nice": false, "zero": false}, "axis": {"title": "Beam deflection (nm)", "values": [0, 200, 400, 600, 800, 1000], "format": ",d"}}, "y": {"field": "G", "type": "quantitative", "scale": {"domain": [-0.4, 3.22], "nice": false, "zero": false}, "axis": {"title": "G∥ (MHz)", "values": [0, 0.5, 1, 1.5, 2, 2.5, 3], "labelExpr": "datum.value === 0 ? '0' : format(datum.value, '.1f')"}}}},
    {"data": {"name": "dpts"}, "mark": {"type": "errorbar", "color": "#222", "thickness": 0.8},
     "encoding": {"x": {"field": "X", "type": "quantitative", "scale": {"domain": [-105, 1074], "nice": false, "zero": false}, "axis": null}, "y": {"field": "G", "type": "quantitative", "scale": {"domain": [-0.4, 3.22], "nice": false, "zero": false}, "axis": null}, "yError": {"field": "ey"}}},
    {"data": {"name": "dpts"}, "mark": {"type": "errorbar", "color": "#222", "thickness": 0.8},
     "encoding": {"x": {"field": "X", "type": "quantitative", "scale": {"domain": [-105, 1074], "nice": false, "zero": false}, "axis": null}, "y": {"field": "G", "type": "quantitative", "scale": {"domain": [-0.4, 3.22], "nice": false, "zero": false}, "axis": null}, "xError": {"field": "ex"}}},
    {"data": {"name": "dfit"}, "mark": {"type": "point", "opacity": 0},
     "encoding": {"x": {"field": "X", "type": "quantitative", "scale": {"domain": [-105, 1074], "nice": false, "zero": false}, "axis": {"orient": "top", "labels": false, "title": null, "values": [0, 200, 400, 600, 800, 1000]}}, "y": {"field": "G", "type": "quantitative", "scale": {"domain": [-0.4, 3.22], "nice": false, "zero": false}, "axis": {"orient": "right", "labels": false, "title": null, "values": [0, 0.5, 1, 1.5, 2, 2.5, 3]}}}}
   ]}
 ]}
]
}
